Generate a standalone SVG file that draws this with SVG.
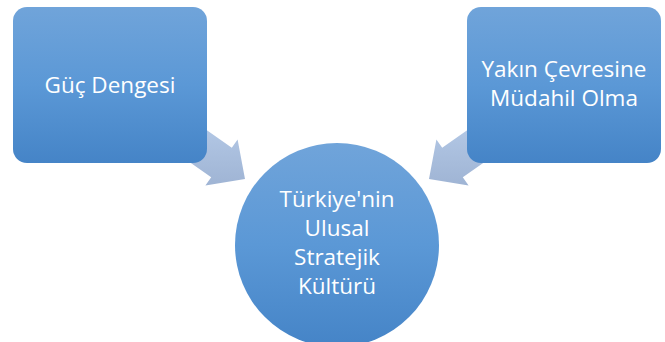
<svg xmlns="http://www.w3.org/2000/svg" width="665" height="342" viewBox="0 0 665 342">
  <defs>
    <linearGradient id="nodeFill" x1="0" y1="0" x2="0" y2="1">
      <stop offset="0" stop-color="#70a4da"/>
      <stop offset="0.5" stop-color="#5b98d6"/>
      <stop offset="1" stop-color="#4584c7"/>
    </linearGradient>
    <linearGradient id="arrowFill" gradientUnits="userSpaceOnUse" x1="0" y1="110" x2="0" y2="186">
      <stop offset="0" stop-color="#b8cdea"/>
      <stop offset="1" stop-color="#9fb4d4"/>
    </linearGradient>
    <style>
      .node { fill: url(#nodeFill); }
      .arrow { fill: url(#arrowFill); }
      .label { font-family: "Open Sans", "Liberation Sans", sans-serif; font-size: 22.5px; fill: #ffffff; text-anchor: middle; }
    </style>
  </defs>
  <rect width="665" height="342" fill="#ffffff"/>
  <g id="connectors">
    <polygon class="arrow" points="174.5,107.6 231.8,147.75 237.6,139.6 245,179 205.4,185.4 211.2,177.25 153.8,137.1"/>
    <polygon class="arrow" points="499.5,107.6 442.2,147.75 436.4,139.6 429,179 468.6,185.4 462.8,177.25 520.2,137.1"/>
  </g>
  <g id="guc-dengesi">
    <rect class="node" x="13" y="7" width="194" height="156" rx="14" ry="14"/>
    <text class="label" x="110" y="93">Güç Dengesi</text>
  </g>
  <g id="yakin-cevresine">
    <rect class="node" x="467" y="7" width="194" height="156" rx="14" ry="14"/>
    <text class="label" x="564" y="77">Yakın Çevresine</text>
    <text class="label" x="564" y="106">Müdahil Olma</text>
  </g>
  <g id="ulusal-stratejik-kultur">
    <circle class="node" cx="337" cy="245" r="102"/>
    <text class="label" x="337" y="207">Türkiye'nin</text>
    <text class="label" x="337" y="236">Ulusal</text>
    <text class="label" x="337" y="265">Stratejik</text>
    <text class="label" x="337" y="294">Kültürü</text>
  </g>
</svg>
